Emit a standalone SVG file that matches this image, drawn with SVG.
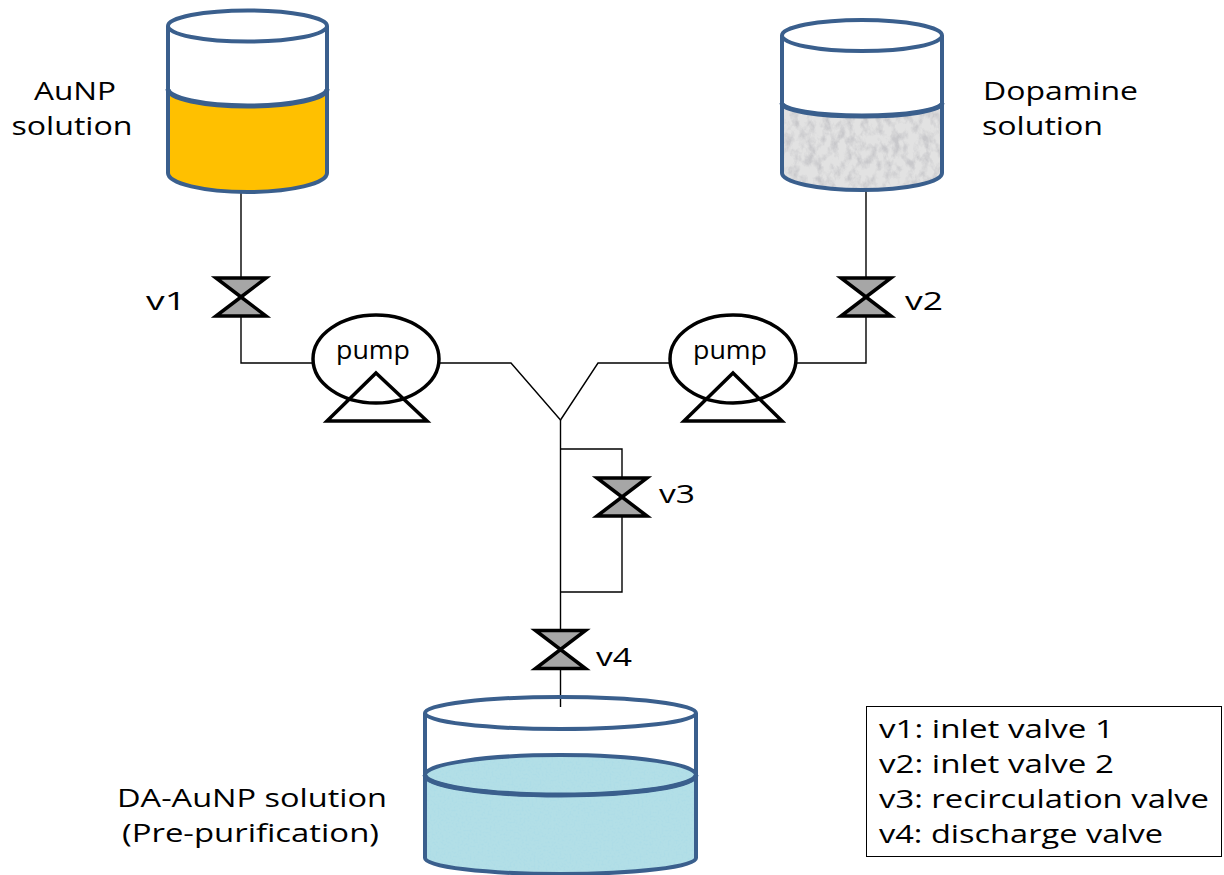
<svg xmlns="http://www.w3.org/2000/svg" width="1224" height="875" viewBox="0 0 1224 875">
  <style>
    .tank { fill: none; stroke: #3A5F8D; stroke-width: 4; }
    .surface { fill: none; stroke: #3A5F8D; stroke-width: 5; }
    .body { fill: #FFFFFF; stroke: none; }
    .pipe { fill: none; stroke: #000000; stroke-width: 1.4; }
    .valve { fill: #A6A6A6; stroke: #000000; stroke-width: 3.5; stroke-linejoin: miter; }
    .pump { fill: #FFFFFF; stroke: #000000; stroke-width: 3.5; }
    .pumpfoot { fill: none; stroke: #000000; stroke-width: 3.5; stroke-linejoin: miter; }
    .lbl { font-family: "Open Sans", "Liberation Sans", sans-serif; font-size: 26px; fill: #000000; }
    .legend { fill: #FFFFFF; stroke: #000000; stroke-width: 1; }
  </style>
  <defs>
    <!-- light grey marbled liquid -->
    <filter id="marble" x="0" y="0" width="1" height="1">
      <feTurbulence type="fractalNoise" baseFrequency="0.13 0.09" numOctaves="4" seed="7" result="n"/>
      <feColorMatrix in="n" type="matrix" values="0 0 0 0 0.58  0 0 0 0 0.58  0 0 0 0 0.60  2.8 0 0 0 -1.15" result="veins"/>
      <feComposite in="veins" in2="SourceGraphic" operator="over"/>
    </filter>
    <!-- speckled light blue liquid -->
    <filter id="speckle" x="0" y="0" width="1" height="1">
      <feTurbulence type="fractalNoise" baseFrequency="0.5" numOctaves="2" seed="3" result="n"/>
      <feColorMatrix in="n" type="matrix" values="0 0 0 0 0.42  0 0 0 0 0.72  0 0 0 0 0.80  3.6 0 0 0 -1.65" result="dots"/>
      <feComposite in="dots" in2="SourceGraphic" operator="over"/>
    </filter>
    <clipPath id="clipDopa">
      <path d="M782,103 A80,13 0 0 0 942,103 L942,173 A80,17 0 0 1 782,173 Z"/>
    </clipPath>
    <clipPath id="clipMix">
      <path d="M425,775 A135.5,20 0 0 1 696,775 L696,858 A135.5,16 0 0 1 425,858 Z"/>
    </clipPath>
    <g id="valveShape">
      <path class="valve" d="M-25,-19 H25 L0,0 Z"/>
      <path class="valve" d="M-25,19 H25 L0,0 Z"/>
    </g>
  </defs>

  <!-- piping -->
  <g id="connectors">
    <polyline class="pipe" points="241,192 241,278"/>
    <polyline class="pipe" points="241,316 241,363 313,363"/>
    <polyline class="pipe" points="439,363 511,363 560.5,420"/>
    <polyline class="pipe" points="866,190 866,278"/>
    <polyline class="pipe" points="866,316 866,363 796,363"/>
    <polyline class="pipe" points="670,363 598,363 560.5,420"/>
    <polyline class="pipe" points="560.5,420 560.5,630"/>
    <polyline class="pipe" points="560.5,449 622,449 622,477"/>
    <polyline class="pipe" points="622,517 622,592 560.5,592"/>
    <polyline class="pipe" points="560.5,669 560.5,707"/>
  </g>

  <!-- AuNP tank -->
  <g id="tank-aunp">
    <path class="body" d="M168,26 L168,173 A79.5,19 0 0 0 327,173 L327,26 Z"/>
    <path fill="#FFC000" d="M168,89 A79.5,17 0 0 0 327,89 L327,173 A79.5,19 0 0 1 168,173 Z"/>
    <ellipse class="tank" cx="247.5" cy="26" rx="79.5" ry="15.5" fill="#FFFFFF"/>
    <path class="tank" d="M168,26 L168,173 A79.5,19 0 0 0 327,173 L327,26"/>
    <path class="surface" d="M168,89 A79.5,17 0 0 0 327,89"/>
    <text class="lbl" x="75" y="100" text-anchor="middle" textLength="82" lengthAdjust="spacingAndGlyphs">AuNP</text>
    <text class="lbl" x="72" y="135" text-anchor="middle" textLength="121" lengthAdjust="spacingAndGlyphs">solution</text>
  </g>

  <!-- Dopamine tank -->
  <g id="tank-dopamine">
    <path class="body" d="M782,35.5 L782,173 A80,17 0 0 0 942,173 L942,35.5 Z"/>
    <g clip-path="url(#clipDopa)">
      <rect x="780" y="88" width="164" height="106" fill="#E2E2E2" filter="url(#marble)"/>
    </g>
    <ellipse class="tank" cx="862" cy="35.5" rx="80" ry="15.5" fill="#FFFFFF"/>
    <path class="tank" d="M782,35.5 L782,173 A80,17 0 0 0 942,173 L942,35.5"/>
    <path class="surface" d="M782,103 A80,13 0 0 0 942,103"/>
    <text class="lbl" x="983" y="100" textLength="155" lengthAdjust="spacingAndGlyphs">Dopamine</text>
    <text class="lbl" x="982" y="135" textLength="121" lengthAdjust="spacingAndGlyphs">solution</text>
  </g>

  <!-- valves -->
  <g id="valve-v1">
    <use href="#valveShape" x="241" y="297"/>
    <text class="lbl" x="146" y="310" textLength="40" lengthAdjust="spacingAndGlyphs">v1</text>
  </g>
  <g id="valve-v2">
    <use href="#valveShape" x="866" y="297"/>
    <text class="lbl" x="905" y="310" textLength="38" lengthAdjust="spacingAndGlyphs">v2</text>
  </g>
  <g id="valve-v3">
    <use href="#valveShape" x="622" y="497"/>
    <text class="lbl" x="659" y="503" textLength="36" lengthAdjust="spacingAndGlyphs">v3</text>
  </g>
  <g id="valve-v4">
    <use href="#valveShape" x="560.5" y="649.5"/>
    <text class="lbl" x="596" y="666" textLength="36" lengthAdjust="spacingAndGlyphs">v4</text>
  </g>

  <!-- pumps -->
  <g id="pump-1">
    <ellipse class="pump" cx="376" cy="359" rx="63" ry="44"/>
    <polygon class="pumpfoot" points="376,373 427,421 327,421"/>
    <text class="lbl" x="373" y="359" text-anchor="middle" textLength="74" lengthAdjust="spacingAndGlyphs">pump</text>
  </g>
  <g id="pump-2">
    <ellipse class="pump" cx="733" cy="359" rx="63" ry="44"/>
    <polygon class="pumpfoot" points="733,373 782,421 684,421"/>
    <text class="lbl" x="730" y="359" text-anchor="middle" textLength="74" lengthAdjust="spacingAndGlyphs">pump</text>
  </g>

  <!-- DA-AuNP collection tank -->
  <g id="tank-mix">
    <path class="body" d="M425,713 L425,858 A135.5,16 0 0 0 696,858 L696,713 Z"/>
    <g clip-path="url(#clipMix)">
      <rect x="423" y="753" width="275" height="124" fill="#B2DFE7" filter="url(#speckle)"/>
    </g>
    <ellipse class="tank" cx="560.5" cy="713" rx="135.5" ry="16"/>
    <path class="tank" d="M425,713 L425,858 A135.5,16 0 0 0 696,858 L696,713"/>
    <ellipse class="tank" cx="560.5" cy="775" rx="135.5" ry="20"/>
    <path class="surface" stroke-width="6" d="M425,775 A135.5,20 0 0 0 696,775"/>
    <text class="lbl" x="117" y="807" textLength="270" lengthAdjust="spacingAndGlyphs">DA-AuNP solution</text>
    <text class="lbl" x="122" y="842" textLength="257" lengthAdjust="spacingAndGlyphs">(Pre-purification)</text>
  </g>

  <!-- valve key -->
  <g id="legend">
    <rect class="legend" x="866.5" y="706.5" width="355" height="150"/>
    <text class="lbl" x="879" y="738" textLength="235" lengthAdjust="spacingAndGlyphs">v1: inlet valve 1</text>
    <text class="lbl" x="879" y="773" textLength="235" lengthAdjust="spacingAndGlyphs">v2: inlet valve 2</text>
    <text class="lbl" x="879" y="808" textLength="330" lengthAdjust="spacingAndGlyphs">v3: recirculation valve</text>
    <text class="lbl" x="879" y="843" textLength="284" lengthAdjust="spacingAndGlyphs">v4: discharge valve</text>
  </g>
</svg>
